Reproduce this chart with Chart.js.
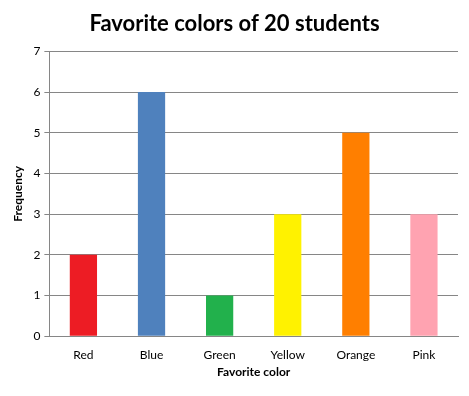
<!DOCTYPE html>
<html>
<head>
<meta charset="utf-8">
<script src="https://cdn.jsdelivr.net/npm/chart.js@4"></script>
<style>
  body { margin: 0; background: #fff; }
  #chart { display: block; }
</style>
</head>
<body>
<canvas id="chart" width="469" height="396"></canvas>
<script>
// Data
const colorNames = ['Red', 'Blue', 'Green', 'Yellow', 'Orange', 'Pink'];
const frequencies = [2, 6, 1, 3, 5, 3];
const barColors = ['#ED1C24', '#4F81BD', '#22B14C', '#FFF200', '#FF7F00', '#FFA3B1'];

const gridGrey = '#868686';
const fontFamily = 'Lato, "Open Sans", sans-serif';

const ctx = document.getElementById('chart').getContext('2d');
new Chart(ctx, {
    type: 'bar',
    data: {
        labels: colorNames,
        datasets: [{
            data: frequencies,
            backgroundColor: barColors,
            borderWidth: 0,
            barPercentage: 0.4,
            categoryPercentage: 1
        }]
    },
    options: {
        responsive: false,
        animation: false,
        layout: { padding: { left: 11, right: 11, top: 11, bottom: 17 } },
        plugins: {
            legend: { display: false },
            tooltip: { enabled: false },
            title: {
                display: true,
                text: 'Favorite colors of 20 students',
                color: '#000',
                font: { family: fontFamily, size: 22, weight: 'bold' },
                padding: { top: 0, bottom: 14 }
            }
        },
        scales: {
            x: {
                grid: { display: false },
                border: { color: gridGrey, width: 1 },
                ticks: { color: '#000', font: { family: fontFamily, size: 12 }, padding: 4 },
                title: {
                    display: true,
                    text: 'Favorite color',
                    color: '#000',
                    font: { family: fontFamily, size: 12, weight: 'bold' },
                    padding: { top: -2, bottom: 0 }
                }
            },
            y: {
                min: 0,
                max: 7,
                ticks: { stepSize: 1, color: '#000', font: { family: fontFamily, size: 12 }, padding: 4 },
                grid: { color: gridGrey, tickLength: 5, lineWidth: 1 },
                border: { color: gridGrey, width: 1 },
                title: {
                    display: true,
                    text: 'Frequency',
                    color: '#000',
                    font: { family: fontFamily, size: 12, weight: 'bold' },
                    padding: { top: 0, bottom: 4 }
                }
            }
        }
    }
});
</script>
</body>
</html>
